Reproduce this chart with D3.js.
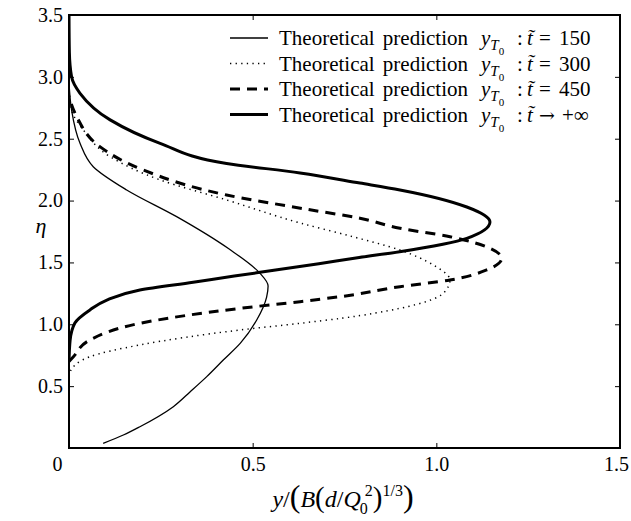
<!DOCTYPE html>
<html>
<head>
<meta charset="utf-8">
<script src="https://cdn.jsdelivr.net/npm/d3@7"></script>
<style>
  body { margin: 0; background: #fff; }
</style>
</head>
<body>
<svg width="631" height="521"></svg>
<script>
// values, as [eta, y/(B(d/Q0^2)^(1/3))]
const t150 = [
  [0.038, 0.093], [0.105, 0.148], [0.172, 0.193], [0.334, 0.284], [0.455, 0.33],
  [0.577, 0.375], [0.711, 0.42], [0.846, 0.466], [1.035, 0.511], [1.22, 0.538],
  [1.31, 0.542], [1.412, 0.52], [1.61, 0.435], [1.87, 0.293], [2.086, 0.157],
  [2.274, 0.066], [2.463, 0.030], [2.732, 0.007], [2.95, 0.0]
];
const t300 = [
  [0.58, 0.0], [0.617, 0.003], [0.738, 0.057], [0.833, 0.193], [0.954, 0.466],
  [1.008, 0.629], [1.05, 0.745], [1.129, 0.901], [1.251, 1.019], [1.358, 1.037],
  [1.479, 0.992], [1.60, 0.901], [1.714, 0.765], [1.819, 0.629], [2.005, 0.429],
  [2.167, 0.248], [2.355, 0.112], [2.571, 0.039], [2.732, 0.007], [2.9, 0.0]
];
const t450 = [
  [0.70, 0.0], [0.738, 0.012], [0.873, 0.057], [1.008, 0.193], [1.129, 0.466],
  [1.183, 0.629], [1.223, 0.738], [1.304, 0.901], [1.358, 1.037], [1.439, 1.137],
  [1.534, 1.178], [1.614, 1.146], [1.708, 1.037], [1.776, 0.901], [1.857, 0.792],
  [1.930, 0.647], [2.045, 0.429], [2.247, 0.202], [2.436, 0.084], [2.678, 0.021],
  [2.84, 0.0]
];
const tInf = [
  [0.70, 0.0], [0.87, 0.003], [1.01, 0.016], [1.116, 0.057], [1.196, 0.103],
  [1.277, 0.193], [1.34, 0.338], [1.39, 0.45], [1.44, 0.567], [1.49, 0.68],
  [1.54, 0.79], [1.587, 0.90], [1.695, 1.083], [1.827, 1.146], [1.948, 1.083],
  [2.086, 0.901], [2.142, 0.792], [2.223, 0.629], [2.30, 0.429], [2.463, 0.248],
  [2.652, 0.112], [2.867, 0.030], [3.0, 0.007], [3.2, 0.001], [3.5, 0.0]
];

const xTicks = [0, 0.5, 1.0, 1.5];
const yTicks = [0.5, 1.0, 1.5, 2.0, 2.5, 3.0, 3.5];
const legendRel = ['=', '=', '=', '\u2192'];
const legendValues = ['150', '300', '450', '+\u221E'];

const serif = 'Liberation Serif';
const margin = { top: 15, right: 11, bottom: 73, left: 69 };
const width = 631 - margin.left - margin.right;
const height = 521 - margin.top - margin.bottom;

const svg = d3.select('svg').attr('font-family', serif);
const g = svg.append('g').attr('transform', 'translate(' + margin.left + ',' + margin.top + ')');

const x = d3.scaleLinear().domain([0, 1.5]).range([0, width]);
const y = d3.scaleLinear().domain([0, 3.5]).range([height, 0]);

svg.append('defs').append('clipPath').attr('id', 'clip')
  .append('rect').attr('width', width).attr('height', height);

// curve styles
const styles = [
  { data: t150, width: 1.3, dash: null },
  { data: t300, width: 1.5, dash: '1.3,4.3' },
  { data: t450, width: 3, dash: '10,7' },
  { data: tInf, width: 3, dash: null }
];

const line = d3.line()
  .x(d => x(d[1]))
  .y(d => y(d[0]))
  .curve(d3.curveMonotoneY);

g.append('g').attr('clip-path', 'url(#clip)')
  .selectAll('path')
  .data(styles)
  .enter().append('path')
  .attr('d', d => line(d.data))
  .attr('fill', 'none')
  .attr('stroke', '#000')
  .attr('stroke-width', d => d.width)
  .attr('stroke-dasharray', d => d.dash);

// axes, ticks pointing inward
const fmt = d => d === 0 ? '0' : d3.format('.1f')(d);

const xAxis = g.append('g').attr('transform', 'translate(0,' + height + ')')
  .call(d3.axisBottom(x).tickValues(xTicks).tickSize(-5).tickPadding(9).tickFormat(fmt));
xAxis.selectAll('.tick').filter(d => d === 0).select('text').attr('dx', -12);
xAxis.selectAll('.tick').filter(d => d === 1.5).select('text').attr('dx', -4);

g.append('g')
  .call(d3.axisLeft(y).tickValues(yTicks).tickSize(-5).tickPadding(6).tickFormat(fmt));

g.append('g')
  .call(d3.axisTop(x).tickValues(xTicks).tickSize(-5).tickFormat(''));
g.append('g').attr('transform', 'translate(' + width + ',0)')
  .call(d3.axisRight(y).tickValues(yTicks).tickSize(-5).tickFormat(''));

g.selectAll('.domain').remove();
g.selectAll('.tick line').attr('stroke', '#000').attr('stroke-width', 1);
g.selectAll('.tick text').attr('font-family', serif).attr('font-size', 20).attr('fill', '#000');

g.append('rect')
  .attr('width', width).attr('height', height)
  .attr('fill', 'none').attr('stroke', '#000').attr('stroke-width', 2);

// axis titles
svg.append('text')
  .attr('x', 41).attr('y', 233)
  .attr('text-anchor', 'middle')
  .attr('font-family', serif)
  .attr('font-size', 22).attr('font-style', 'italic')
  .text('\u03B7');

const xt = svg.append('text')
  .attr('x', 343).attr('y', 507)
  .attr('text-anchor', 'middle')
  .attr('font-family', serif)
  .attr('font-size', 24);
xt.append('tspan').attr('font-style', 'italic').text('y');
xt.append('tspan').text('/');
xt.append('tspan').attr('font-size', 32).text('(');
xt.append('tspan').attr('font-style', 'italic').text('B');
xt.append('tspan').attr('font-size', 29).text('(');
xt.append('tspan').attr('font-style', 'italic').text('d');
xt.append('tspan').text('/');
xt.append('tspan').attr('font-style', 'italic').text('Q');
xt.append('tspan').attr('dy', 7).attr('dx', -1).attr('font-size', 16).text('0');
xt.append('tspan').attr('dy', -18).attr('dx', -3).attr('font-size', 16).text('2');
xt.append('tspan').attr('dy', 11).attr('font-size', 29).text(')');
xt.append('tspan').attr('dy', -11).attr('font-size', 16).text('1/3');
xt.append('tspan').attr('dy', 11).attr('font-size', 32).text(')');

// legend
const rows = svg.append('g').selectAll('g')
  .data(styles)
  .enter().append('g')
  .attr('transform', (d, i) => 'translate(0,' + (45 + i * 25.5) + ')');

rows.append('line')
  .attr('x1', 230).attr('x2', 268)
  .attr('y1', -7).attr('y2', -7)
  .attr('stroke', '#000')
  .attr('stroke-width', d => d.width)
  .attr('stroke-dasharray', d => d.dash);

rows.append('text')
  .attr('x', 279)
  .attr('font-family', serif)
  .attr('font-size', 21)
  .attr('word-spacing', 3)
  .text('Theoretical prediction');

const sym = rows.append('text')
  .attr('x', 481)
  .attr('font-family', serif)
  .attr('font-size', 21);
sym.append('tspan').attr('font-style', 'italic').text('y');
sym.append('tspan').attr('dy', 5).attr('font-style', 'italic').attr('font-size', 15).text('T');
sym.append('tspan').attr('dy', 5).attr('font-size', 11).text('0');

rows.append('text').attr('x', 517).attr('font-family', serif).attr('font-size', 21).text(':');
rows.append('text').attr('x', 527).attr('font-family', serif).attr('font-size', 21)
  .attr('font-style', 'italic').text('t\u0303');
rows.append('text').attr('x', 539).attr('font-family', (d, i) => i === 3 ? 'DejaVu Serif' : serif)
  .attr('font-size', (d, i) => i === 3 ? 19 : 21)
  .text((d, i) => legendRel[i]);
rows.append('text').attr('x', (d, i) => i === 3 ? 562 : 559).attr('font-family', serif).attr('font-size', 21)
  .text((d, i) => legendValues[i]);
</script>
</body>
</html>
